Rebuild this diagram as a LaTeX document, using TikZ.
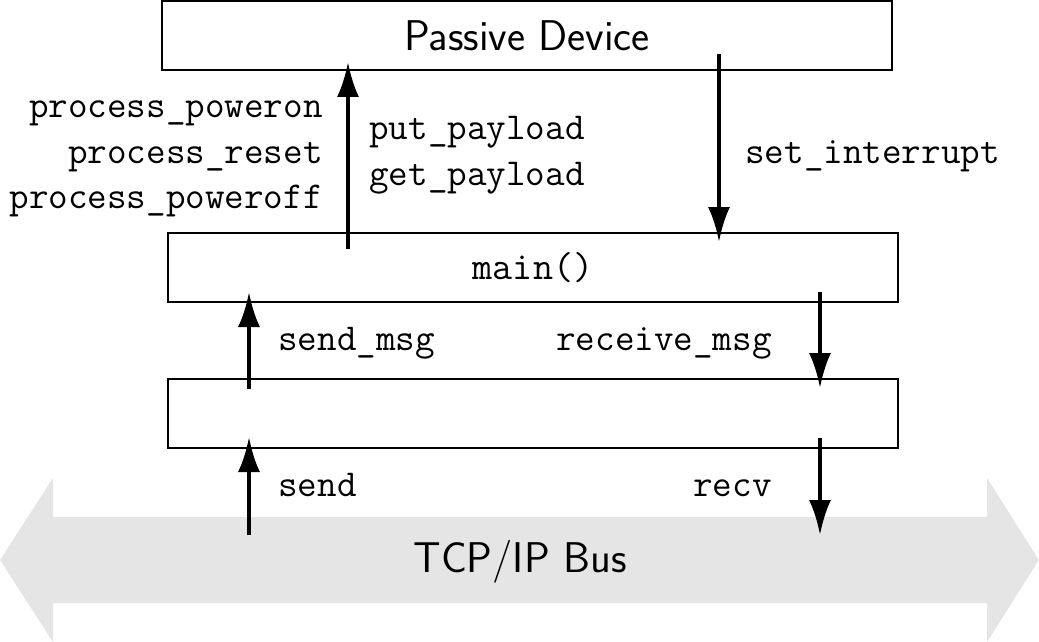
\documentclass[tikz,border=0pt]{standalone}
\usepackage{fontspec}
\usetikzlibrary{arrows.meta}
\begin{document}
\begin{tikzpicture}[x=0.5pt,y=-0.5pt,
  box/.style={draw, line width=1pt, minimum width=365pt, minimum height=34.5pt, inner sep=0pt},
  lbl/.style={inner sep=0pt, font=\fontsize{19}{22}\selectfont\ttfamily},
  arr/.style={line width=2pt, -{Latex[length=17.5pt,width=11pt]}},
  bus/.style={fill=black!10, draw=none}]
\useasboundingbox (0,0) rectangle (1039,642);
% bus
\fill[bus] (0,560) -- (53,478) -- (53,517) -- (987,517) -- (987,478) -- (1039,560)
  -- (987,642) -- (987,603) -- (53,603) -- (53,642) -- cycle;
\node[inner sep=0pt, anchor=base, font=\fontsize{21.5}{25}\selectfont\sffamily] (bustxt) at (520,572) {TCP/IP Bus};
% boxes
\node[box, font=\fontsize{21.5}{25}\selectfont\sffamily] (pd) at (527,35.5) {Passive Device};
\node[box, font=\fontsize{19.5}{23}\selectfont\ttfamily] (main) at (533,267.5) {main()};
\node[box] (mid) at (533,413.5) {};
% connector end points
\coordinate (a1s) at (348,249);
\coordinate (a1e) at (348,62);
\coordinate (a2s) at (719,54);
\coordinate (a2e) at (719,242);
\coordinate (a3s) at (249,389);
\coordinate (a3e) at (249,292);
\coordinate (a4s) at (820,292);
\coordinate (a4e) at (820,388);
\coordinate (a5s) at (249,535);
\coordinate (a5e) at (249,437);
\coordinate (a6s) at (820,438);
\coordinate (a6e) at (820,535);
\draw[arr] (a1s) -- (a1e);
\draw[arr] (a2s) -- (a2e);
\draw[arr] (a3s) -- (a3e);
\draw[arr] (a4s) -- (a4e);
\draw[arr] (a5s) -- (a5e);
\draw[arr] (a6s) -- (a6e);
% labels
\node[lbl, anchor=base east] (l1) at (323,118) {process\_poweron};
\node[lbl, anchor=base east] (l2) at (323,163) {process\_reset};
\node[lbl, anchor=base east] (l3) at (323,208) {process\_poweroff};
\node[lbl, anchor=base west] (l4) at (369,140) {put\_payload};
\node[lbl, anchor=base west] (l5) at (369,185) {get\_payload};
\node[lbl, anchor=base west] (l6) at (745,163) {set\_interrupt};
\node[lbl, anchor=base west] (l7) at (278,350) {send\_msg};
\node[lbl, anchor=base east] (l8) at (772,350) {receive\_msg};
\node[lbl, anchor=base west] (l9) at (278,496) {send};
\node[lbl, anchor=base east] (l10) at (772,496) {recv};
\end{tikzpicture}
\end{document}
